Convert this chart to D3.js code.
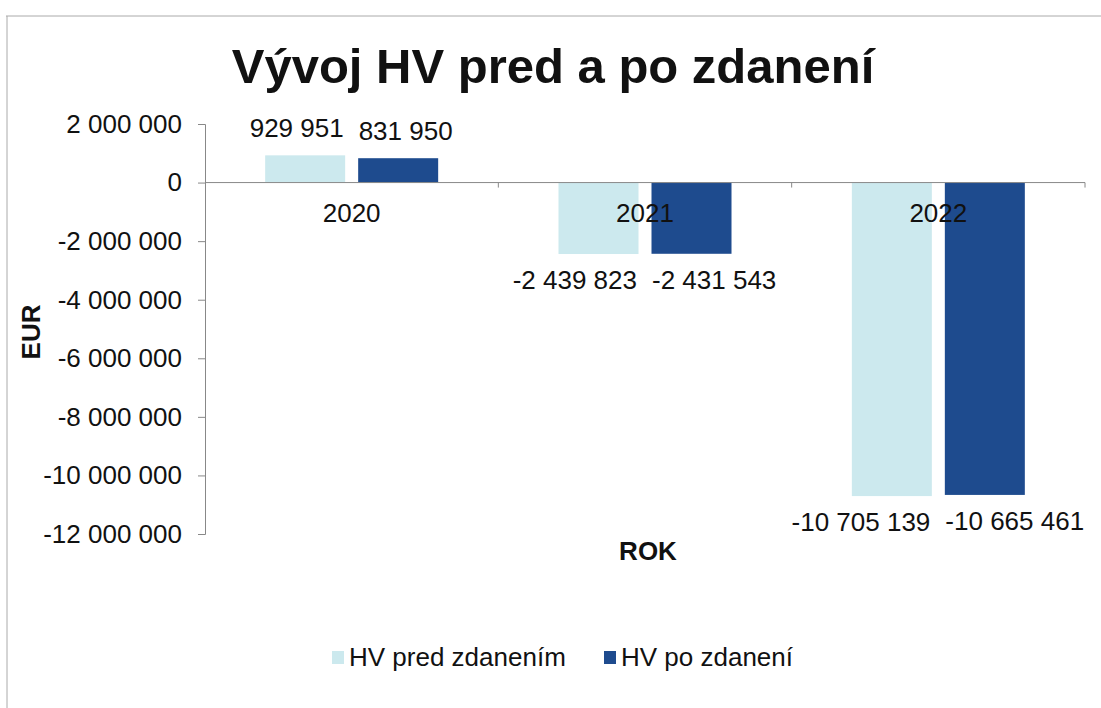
<!DOCTYPE html>
<html>
<head>
<meta charset="utf-8">
<script src="https://cdn.jsdelivr.net/npm/d3@7"></script>
<style>
  body { margin: 0; background: #fff; }
  text { font-family: "Liberation Sans", Arial, sans-serif; fill: #111; }
</style>
</head>
<body>
<script>
var years = ["2020", "2021", "2022"]
var series = ["HV pred zdanením", "HV po zdanení"]
var predZdanenim = [929951, -2439823, -10705139]
var poZdaneni = [831950, -2431543, -10665461]
var yTicks = [2000000, 0, -2000000, -4000000, -6000000, -8000000, -10000000, -12000000]
var colors = ["#cce9ee", "#1e4b8e"]

function main() {
  var width = 1101, height = 708
  var svg = d3.select("body").append("svg").attr("width", width).attr("height", height)

  // chart frame (scan shows only top and left edges)
  svg.append("line").attr("x1", 6).attr("y1", 16).attr("x2", width).attr("y2", 16)
    .attr("stroke", "#aaa").attr("stroke-width", 1)
  svg.append("line").attr("x1", 7).attr("y1", 16).attr("x2", 7).attr("y2", height)
    .attr("stroke", "#aaa").attr("stroke-width", 1)

  var plot = { left: 205, right: 1085, top: 124, bottom: 534 }

  var x = d3.scaleBand().domain(years).range([plot.left, plot.right])
  var y = d3.scaleLinear().domain([-12000000, 2000000]).range([plot.bottom, plot.top])

  var barW = 80, gap = 13
  var fmt = function(v) { return d3.format(",")(v).replace(/,/g, " ").replace("−", "-") }

  // title
  svg.append("text").attr("x", 553).attr("y", 83).attr("text-anchor", "middle")
    .style("font-size", "49px").style("font-weight", "bold").text("Vývoj HV pred a po zdanení")

  // y axis
  var yAxis = d3.axisLeft(y).tickValues(yTicks).tickSize(7).tickPadding(16)
    .tickFormat(fmt)
  var gy = svg.append("g").attr("transform", "translate(" + plot.left + ",0)").call(yAxis)
  gy.select(".domain").attr("stroke", "#888")
  gy.selectAll(".tick line").attr("stroke", "#888")
  gy.selectAll(".tick text").style("font-size", "26px").attr("fill", "#111")
    .style("font-family", "'Liberation Sans', Arial, sans-serif")

  // bars
  var data = []
  years.forEach(function(yr, i) {
    data.push({ year: yr, s: 0, v: predZdanenim[i] })
    data.push({ year: yr, s: 1, v: poZdaneni[i] })
  })

  svg.selectAll("rect.bar").data(data).enter().append("rect")
    .attr("class", "bar")
    .attr("x", function(d) {
      var c = x(d.year) + x.bandwidth() / 2
      return d.s === 0 ? c - gap / 2 - barW : c + gap / 2
    })
    .attr("y", function(d) { return Math.min(y(d.v), y(0)) })
    .attr("width", barW)
    .attr("height", function(d) { return Math.abs(y(d.v) - y(0)) })
    .attr("fill", function(d) { return colors[d.s] })

  // x axis (zero line) with ticks between categories
  var gx = svg.append("g").attr("transform", "translate(0," + y(0) + ")")
  gx.append("line").attr("x1", plot.left).attr("x2", plot.right).attr("stroke", "#888")
  gx.selectAll("line.bound").data(x.domain().map(function(d) { return x(d) + x.bandwidth() }))
    .enter().append("line").attr("class", "bound")
    .attr("x1", function(d) { return d }).attr("x2", function(d) { return d })
    .attr("y1", 0).attr("y2", 5).attr("stroke", "#888")

  // category labels
  svg.selectAll("text.cat").data(years).enter().append("text")
    .attr("class", "cat")
    .attr("x", function(d) { return x(d) + x.bandwidth() / 2 })
    .attr("y", y(0) + 39)
    .attr("text-anchor", "middle")
    .style("font-size", "26px")
    .text(function(d) { return d })

  // value labels
  svg.selectAll("text.val").data(data).enter().append("text")
    .attr("class", "val")
    .attr("x", function(d) {
      var c = x(d.year) + x.bandwidth() / 2
      return d.s === 0 ? c - 8 : c + 7
    })
    .attr("y", function(d) { return d.v >= 0 ? y(d.v) - 18 : y(d.v) + 35 })
    .attr("text-anchor", function(d) { return d.s === 0 ? "end" : "start" })
    .style("font-size", "26px")
    .text(function(d) { return fmt(d.v) })

  // axis titles
  svg.append("text").attr("transform", "translate(40,332) rotate(-90)")
    .attr("text-anchor", "middle").style("font-size", "26px").style("font-weight", "bold").text("EUR")
  svg.append("text").attr("x", x("2021") + x.bandwidth() / 2 + 3).attr("y", 560)
    .attr("text-anchor", "middle").style("font-size", "26px").style("font-weight", "bold").text("ROK")

  // legend
  var legX = [332, 604]
  var leg = svg.selectAll("g.leg").data(series).enter().append("g").attr("class", "leg")
    .attr("transform", function(d, i) { return "translate(" + legX[i] + ",651)" })
  leg.append("rect").attr("width", 12).attr("height", 13).attr("fill", function(d, i) { return colors[i] })
  leg.append("text").attr("x", 17).attr("y", 15).style("font-size", "26px").text(function(d) { return d })
}

main()
</script>
</body>
</html>
